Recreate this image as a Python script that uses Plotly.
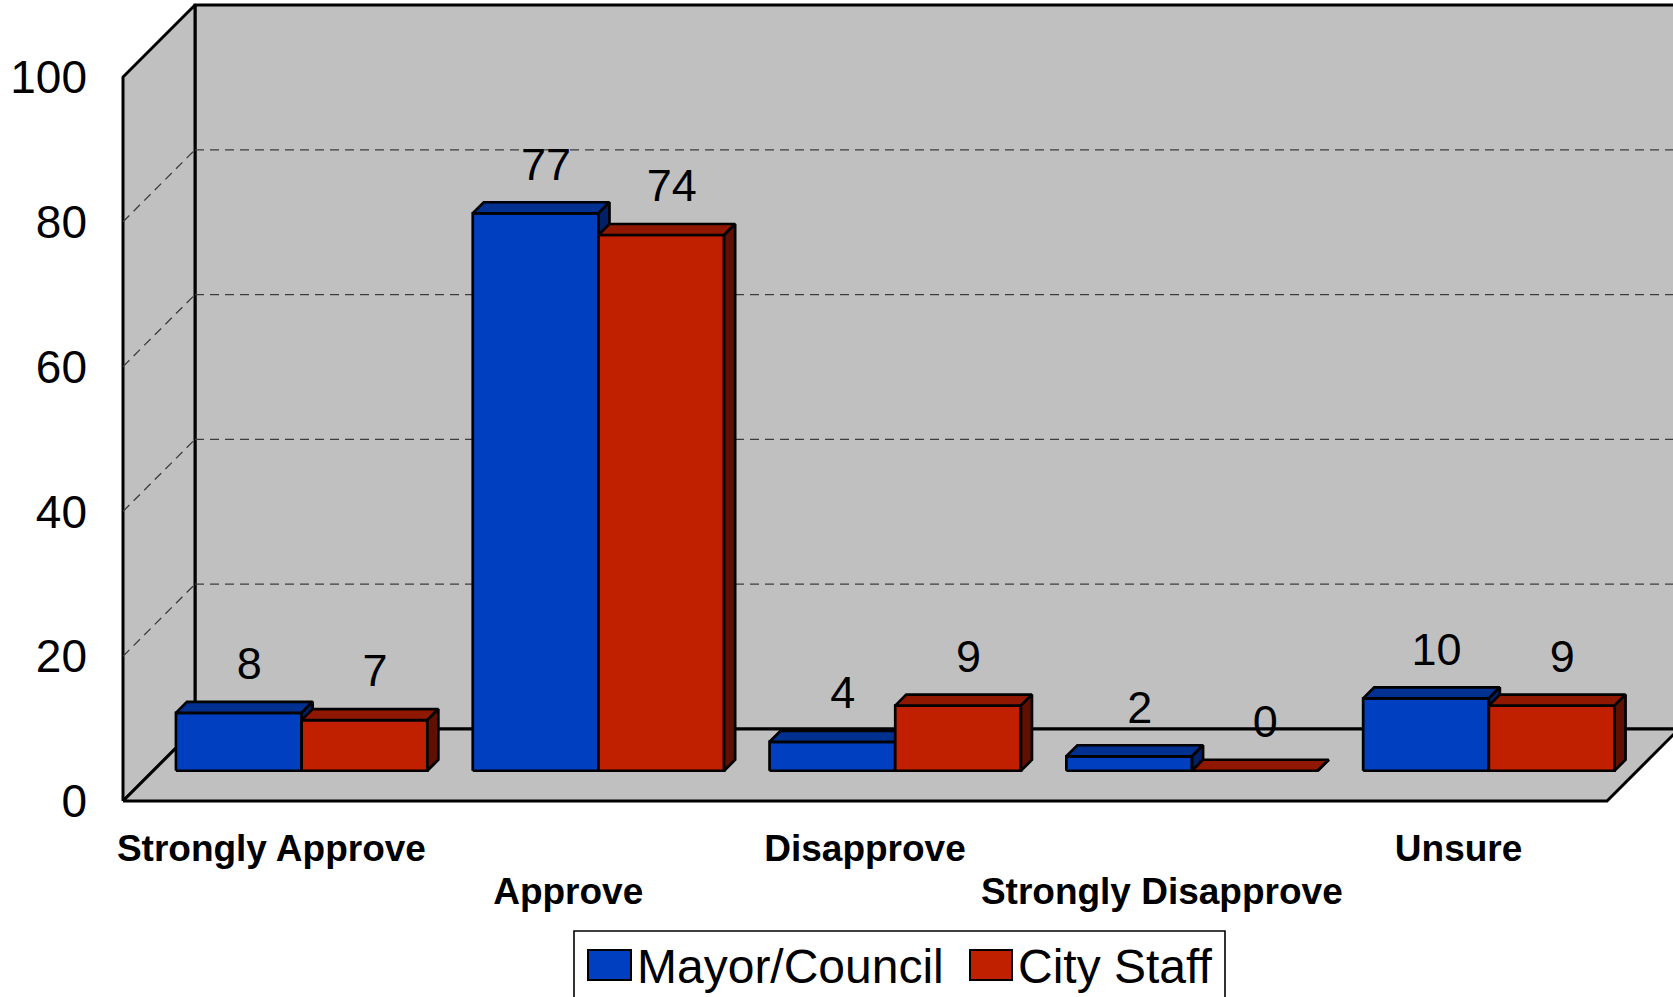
import plotly.graph_objects as go

# ---------------- data ----------------
categories = ["Strongly Approve", "Approve", "Disapprove", "Strongly Disapprove", "Unsure"]
series_names = ["Mayor/Council", "City Staff"]
mayor_council = [8, 77, 4, 2, 10]
city_staff = [7, 74, 9, 0, 9]
y_ticks = [0, 20, 40, 60, 80, 100]

# ---------------- style / geometry ----------------
W, H = 1673, 997
PX_PER_CAT = 296.8      # pixels per category on the front plane
PX_PER_VAL = 7.24       # pixels per value unit
DEPTH_PX = 72           # oblique depth of the floor (px, both directions)
ML, MB = 113, 186       # margins (left, bottom)
PLOT_W, PLOT_H = W - ML, H - MB
PAD = 10                # extra px so edge strokes are not clipped

DX = DEPTH_PX / PX_PER_CAT   # depth offset in category units
DY = DEPTH_PX / PX_PER_VAL   # depth offset in value units
BAR_DEPTH_POS = 0.42         # depth of the bar front plane (0 front .. 1 back)
BAR_THICK = 0.153            # bar depth (fraction of floor depth)
BAR_W = 0.4235               # bar width (category units)
GAP = (1 - 2 * BAR_W) / 2
VMAX = 100

FONT = "Liberation Sans, Arial, sans-serif"
WALL = "#C0C0C0"
GRID = "#3c3c3c"
colors = {
    "Mayor/Council": ("#0040C0", "#003090", "#002068"),
    "City Staff": ("#C02000", "#901800", "#601000"),
}


def proj(x, v, d):
    """oblique projection of (category x, value v, depth d) to axis coords"""
    return x + d * DX, v + d * DY


fig = go.Figure()


def poly(pts, fill, lw=2.7, color="black"):
    xs, ys = zip(*[proj(*p) for p in pts])
    xs = list(xs) + [xs[0]]
    ys = list(ys) + [ys[0]]
    fig.add_trace(go.Scatter(
        x=xs, y=ys, mode="lines", fill="toself", fillcolor=fill,
        line=dict(color=color, width=lw), hoverinfo="skip", showlegend=False))


def seg(p0, p1, dash="solid", lw=2.6, color="black"):
    (x0, y0), (x1, y1) = proj(*p0), proj(*p1)
    fig.add_trace(go.Scatter(
        x=[x0, x1], y=[y0, y1], mode="lines",
        line=dict(color=color, width=lw, dash=dash),
        hoverinfo="skip", showlegend=False))


n = len(categories)
# walls and floor
poly([(0, 0, 1), (n, 0, 1), (n, VMAX, 1), (0, VMAX, 1)], WALL, lw=3)
poly([(0, 0, 0), (0, 0, 1), (0, VMAX, 1), (0, VMAX, 0)], WALL, lw=3)
poly([(0, 0, 0), (n, 0, 0), (n, 0, 1), (0, 0, 1)], WALL, lw=3)

# gridlines
for t in y_ticks[1:-1]:
    seg((0, t, 1), (n, t, 1), dash="9px,6px", lw=1.3, color=GRID)
    seg((0, t, 0), (0, t, 1), dash="9px,6px", lw=1.3, color=GRID)

# bars
d0, d1 = BAR_DEPTH_POS, BAR_DEPTH_POS + BAR_THICK
label_x, label_y, label_t = [], [], []
for i in range(n):
    for k, (name, vals) in enumerate(zip(series_names, [mayor_council, city_staff])):
        h = vals[i]
        x0 = i + GAP + k * BAR_W
        x1 = x0 + BAR_W
        front, top, side = colors[name]
        poly([(x0, 0, d0), (x1, 0, d0), (x1, h, d0), (x0, h, d0)], front)
        poly([(x0, h, d0), (x1, h, d0), (x1, h, d1), (x0, h, d1)], top)
        poly([(x1, 0, d0), (x1, 0, d1), (x1, h, d1), (x1, h, d0)], side)
        lx, ly = proj((x0 + x1) / 2, h, d0)
        label_x.append(lx + 10.5 / PX_PER_CAT)
        label_y.append(ly + 45 / PX_PER_VAL)
        label_t.append(str(h))

fig.add_trace(go.Scatter(
    x=label_x, y=label_y, text=label_t, mode="text", textposition="middle center",
    textfont=dict(family=FONT, size=45, color="black"), xaxis="x2", yaxis="y",
    hoverinfo="skip", showlegend=False, cliponaxis=False))

# ---------------- axes ----------------
x_range = [-PAD / PX_PER_CAT, (PLOT_W - PAD) / PX_PER_CAT]
cat_font = dict(family=FONT, size=37, color="black", weight="bold")
common_x = dict(range=x_range, tickmode="array", tickfont=cat_font, showgrid=False,
                zeroline=False, showline=False, ticks="", fixedrange=True)
# first row of category labels (even positions), second row on an overlaid axis
fig.update_layout(
    xaxis=dict(**common_x,
               tickvals=[i + 0.5 for i in range(0, n, 2)],
               ticktext=categories[0::2], ticklabelstandoff=12),
    xaxis2=dict(**common_x, overlaying="x", matches="x", anchor="y", side="bottom",
                tickvals=[i + 0.5 for i in range(1, n, 2)],
                ticktext=categories[1::2], ticklabelstandoff=55),
)
fig.update_yaxes(
    range=[-PAD / PX_PER_VAL, (PLOT_H - PAD) / PX_PER_VAL],
    tickmode="array", tickvals=y_ticks, ticktext=[str(t) for t in y_ticks],
    tickfont=dict(family=FONT, size=46, color="black"),
    showgrid=False, zeroline=False, showline=False, ticks="",
    ticklabelstandoff=25, fixedrange=True)

# ---------------- legend (drawn) ----------------
def px(xp):
    return (xp - ML) / PLOT_W


def py(yp):
    return (PLOT_H - yp) / PLOT_H


shapes = [dict(type="rect", xref="paper", yref="paper",
               x0=px(574), x1=px(1225), y0=py(1010), y1=py(931),
               line=dict(color="black", width=1.6), fillcolor="white", layer="above")]
legend_items = [(588, 631, 635), (970, 1012, 1016)]
annotations = []
for name, (sx0, sx1, tx) in zip(series_names, legend_items):
    shapes.append(dict(type="rect", xref="paper", yref="paper",
                       x0=px(sx0), x1=px(sx1), y0=py(980), y1=py(950),
                       line=dict(color="black", width=2), fillcolor=colors[name][0],
                       layer="above"))
    annotations.append(dict(xref="paper", yref="paper", x=px(tx), y=py(967),
                            text=name, showarrow=False, xanchor="left", yanchor="middle",
                            font=dict(family=FONT, size=48, color="black")))

fig.update_layout(
    width=W, height=H, margin=dict(l=ML, r=0, t=0, b=MB, pad=0),
    paper_bgcolor="white", plot_bgcolor="white",
    shapes=shapes, annotations=annotations, showlegend=False)

fig.write_html("out.html", post_script="document.body.style.margin='0';",
               config={"displayModeBar": False})
